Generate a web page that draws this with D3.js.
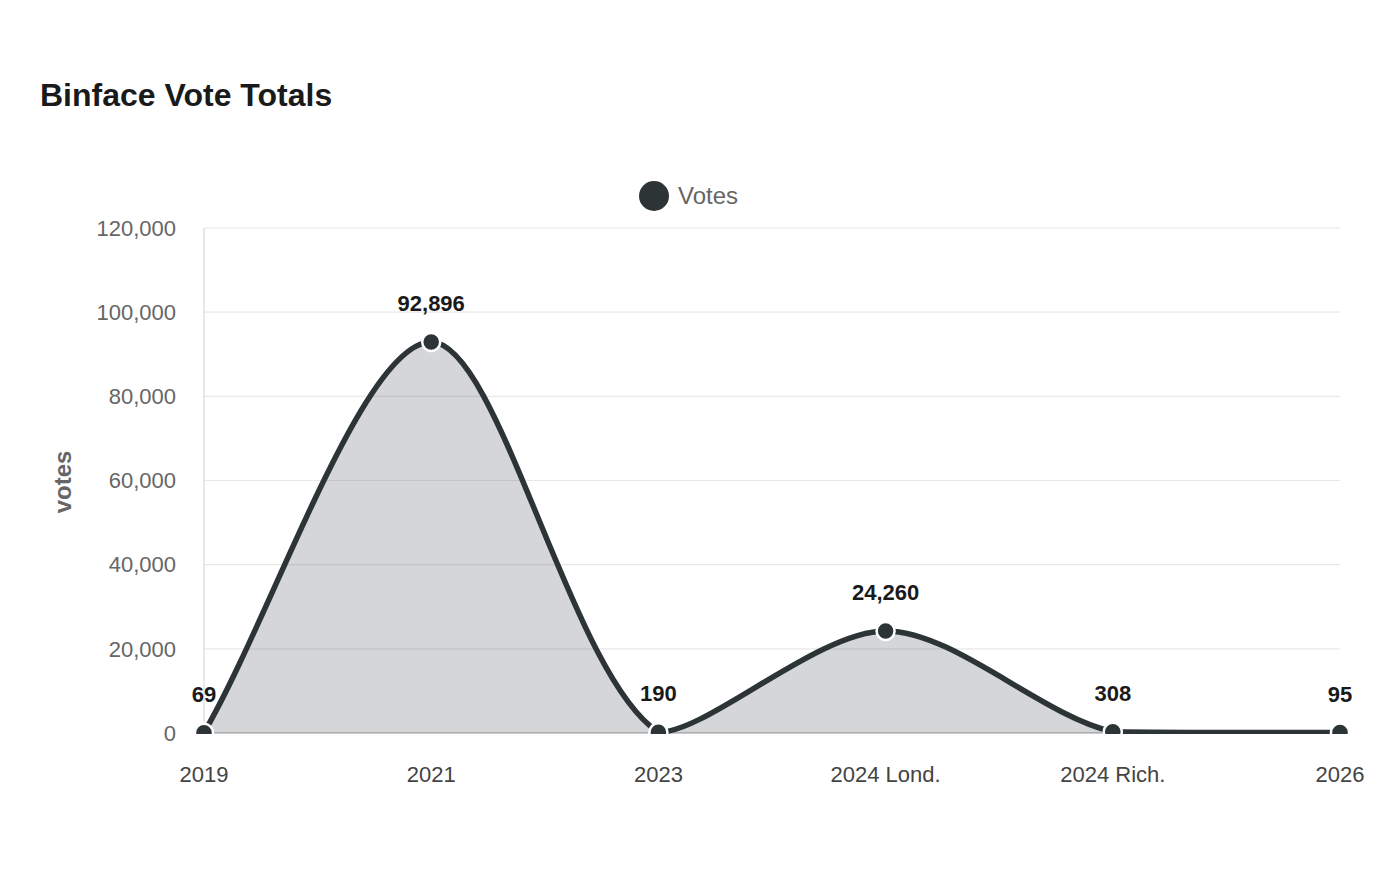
<!DOCTYPE html>
<html><head><meta charset="utf-8">
<script src="https://cdn.jsdelivr.net/npm/d3@7"></script>
<style>body{margin:0;background:#fff;font-family:"Liberation Sans",Arial,sans-serif;}</style>
</head><body>
<svg id="c" width="1400" height="880"></svg>
<script>
const categories = ["2019","2021","2023","2024 Lond.","2024 Rich.","2026"];
const votes = [69, 92896, 190, 24260, 308, 95];
const yTicks = [0,20000,40000,60000,80000,100000,120000];

const svg = d3.select("#c");
const W=1400,H=880;
const m={left:204,right:60,top:228,bottom:147};
const x = d3.scalePoint().domain(categories).range([m.left, W-m.right]);
const y = d3.scaleLinear().domain([0,120000]).range([H-m.bottom, m.top]);
const color="#2d3436";
const tension=0.3;

svg.append("text").attr("x",40).attr("y",106).attr("font-size",32).attr("font-weight","bold").attr("fill","#1a1a1a").text("Binface Vote Totals");

// grid
const g=svg.append("g");
g.selectAll("line.grid").data(yTicks).enter().append("line")
 .attr("x1",m.left).attr("x2",W-m.right).attr("y1",d=>y(d)).attr("y2",d=>y(d))
 .attr("stroke",d=>d===0?"#cccccc":"#e8e8e8").attr("stroke-width",d=>d===0?2:1.2);
g.append("line").attr("x1",m.left).attr("x2",m.left).attr("y1",m.top).attr("y2",y(0)).attr("stroke","#e0e0e0").attr("stroke-width",1.5);

g.selectAll("text.yt").data(yTicks).enter().append("text")
 .attr("x",176).attr("y",d=>y(d)).attr("dy","0.35em").attr("text-anchor","end")
 .attr("font-size",22).attr("fill","#666").text(d=>d3.format(",")(d));

g.selectAll("text.xt").data(categories).enter().append("text")
 .attr("x",d=>x(d)).attr("y",782).attr("text-anchor","middle")
 .attr("font-size",22).attr("fill","#444").text(d=>d);

svg.append("text").attr("transform","translate(71,482) rotate(-90)").attr("text-anchor","middle")
 .attr("font-size",24).attr("font-weight","bold").attr("fill","#666").text("votes");

// legend
svg.append("circle").attr("cx",654).attr("cy",196).attr("r",15).attr("fill",color);
svg.append("text").attr("x",678).attr("y",196).attr("dy","0.35em").attr("font-size",24).attr("fill","#666").text("Votes");

svg.append("defs").append("clipPath").attr("id","clip").append("rect").attr("x",0).attr("y",0).attr("width",W).attr("height",y(0)+1);

const data = categories.map((c,i)=>({c,v:votes[i]}));
const pts = data.map(d=>[x(d.c), y(d.v)]);
// spline control points (tension-based, clamped to plot area)
const yTop=y.range()[1], yBot=y.range()[0];
const ctrl = pts.map((p,i)=>{
  const prev = pts[i-1]||p, next = pts[i+1]||p;
  const d01=Math.hypot(p[0]-prev[0],p[1]-prev[1]), d12=Math.hypot(next[0]-p[0],next[1]-p[1]);
  const s=d01+d12||1;
  const fa=tension*d01/s, fb=tension*d12/s;
  const cl=[p[0]-fa*(next[0]-prev[0]), p[1]-fa*(next[1]-prev[1])];
  const cr=[p[0]+fb*(next[0]-prev[0]), p[1]+fb*(next[1]-prev[1])];
  cl[1]=Math.max(yTop,Math.min(yBot,cl[1])); cr[1]=Math.max(yTop,Math.min(yBot,cr[1]));
  return {cl,cr};
});
function linePath(p){
  p.moveTo(pts[0][0],pts[0][1]);
  for(let i=1;i<pts.length;i++){
    p.bezierCurveTo(ctrl[i-1].cr[0],ctrl[i-1].cr[1],ctrl[i].cl[0],ctrl[i].cl[1],pts[i][0],pts[i][1]);
  }
  return p;
}
const lp = linePath(d3.path()).toString();
const ap = d3.path(); linePath(ap); ap.lineTo(pts[pts.length-1][0], yBot); ap.lineTo(pts[0][0], yBot); ap.closePath();

const plot = svg.append("g").attr("clip-path","url(#clip)");
plot.append("path").attr("d",ap.toString()).attr("fill",color).attr("fill-opacity",0.2);
plot.append("path").attr("d",lp).attr("fill","none").attr("stroke",color).attr("stroke-width",5.5);
plot.selectAll("circle").data(data).enter().append("circle")
 .attr("cx",d=>x(d.c)).attr("cy",d=>y(d.v)).attr("r",9).attr("fill",color).attr("stroke","#fff").attr("stroke-width",2.5);

svg.selectAll("text.dl").data(data).enter().append("text")
 .attr("x",d=>x(d.c)).attr("y",d=>y(d.v)-31).attr("text-anchor","middle")
 .attr("font-size",22).attr("font-weight","bold").attr("fill","#1a1a1a").text(d=>d3.format(",")(d.v));
</script>
</body></html>
